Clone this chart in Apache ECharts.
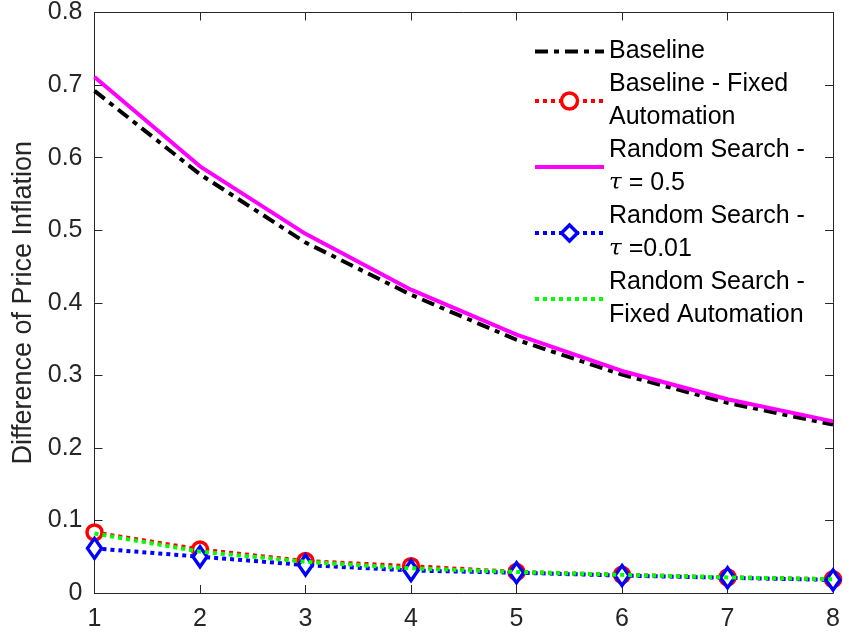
<!DOCTYPE html>
<html>
<head>
<meta charset="utf-8">
<script src="https://cdn.jsdelivr.net/npm/echarts@6/dist/echarts.min.js"></script>
<style>
html,body{margin:0;padding:0;background:#fff;}
#chart{width:843px;height:639px;}
</style>
</head>
<body>
<div id="chart"></div>
<script>
const xValues = [1, 2, 3, 4, 5, 6, 7, 8];
const baseline = [0.692, 0.577, 0.483, 0.411, 0.349, 0.301, 0.262, 0.232];
const baselineFixed = [0.0835, 0.060, 0.044, 0.037, 0.029, 0.025, 0.0215, 0.019];
const randomSearch05 = [0.711, 0.588, 0.495, 0.418, 0.356, 0.306, 0.267, 0.2365];
const randomSearch001 = [0.0615, 0.050, 0.0385, 0.031, 0.028, 0.024, 0.021, 0.018];
const randomSearchFixed = [0.082, 0.057, 0.043, 0.034, 0.029, 0.025, 0.0215, 0.019];
const seriesNames = ['Baseline', 'Baseline - Fixed Automation', 'Random Search - tau = 0.5', 'Random Search - tau =0.01', 'Random Search - Fixed Automation'];
const legendLabels = {
  'Baseline': 'Baseline',
  'Baseline - Fixed Automation': 'Baseline - Fixed\nAutomation',
  'Random Search - tau = 0.5': 'Random Search -\n{t|τ} = 0.5',
  'Random Search - tau =0.01': 'Random Search -\n{t|τ} =0.01',
  'Random Search - Fixed Automation': 'Random Search -\nFixed Automation'
};

const pairs = arr => xValues.map((x, i) => [x, arr[i]]);
const FONT = '"Liberation Sans", Arial, Helvetica, sans-serif';
const AX = '#262626';

const styles = [
  {line: {color: '#000', width: 4, type: [13, 6, 5, 6], cap: 'butt'}, sym: 'none', z: 2},
  {line: {color: '#ff0000', width: 4, type: [4, 4], cap: 'butt'}, sym: 'circle', size: 15, border: '#ff0000', z: 2},
  {line: {color: '#ff00ff', width: 4, type: 'solid'}, sym: 'none', z: 2},
  {line: {color: '#0000ff', width: 4, type: [4, 4], cap: 'butt'}, sym: 'diamond', size: [14, 20], border: '#0000ff', z: 2},
  {line: {color: '#00ff00', width: 4, type: [4, 4], cap: 'butt'}, sym: 'none', z: 3}
];
const seriesData = [baseline, baselineFixed, randomSearch05, randomSearch001, randomSearchFixed];

const legendData = seriesNames.map((n, i) => {
  const s = styles[i];
  const item = {name: n, lineStyle: Object.assign({}, s.line)};
  if (s.sym === 'none') {
    item.itemStyle = {opacity: 0};
  } else {
    item.itemStyle = {color: '#fff', borderColor: s.border, borderWidth: 3.5, opacity: 1};
  }
  return item;
});

const series = seriesNames.map((n, i) => {
  const s = styles[i];
  const o = {
    name: n, type: 'line', data: pairs(seriesData[i]), z: s.z,
    symbol: s.sym, color: s.line.color,
    lineStyle: s.line
  };
  if (s.sym !== 'none') {
    o.symbolSize = s.size;
    o.itemStyle = {color: '#fff', borderColor: s.border, borderWidth: 3.5};
  }
  return o;
});

const chart = echarts.init(document.getElementById('chart'), null, {renderer: 'canvas'});
chart.setOption({
  animation: false,
  backgroundColor: '#fff',
  grid: {left: 94.5, right: 7, top: 10, bottom: 46},
  legend: {
    orient: 'vertical',
    left: 528,
    top: 30,
    itemGap: 0,
    itemWidth: 69,
    itemHeight: 20,
    data: legendData,
    formatter: n => legendLabels[n],
    textStyle: {
      fontFamily: FONT, fontSize: 25, color: '#000', lineHeight: 33,
      rich: {t: {fontFamily: '"DejaVu Serif", serif', fontStyle: 'italic', fontSize: 23, lineHeight: 33, color: '#000'}}
    }
  },
  xAxis: [{
    type: 'value', min: 1, max: 8, interval: 1,
    axisLine: {show: true, onZero: false, lineStyle: {color: AX, width: 1}},
    axisTick: {show: true, inside: true, length: 8, lineStyle: {color: AX}},
    axisLabel: {fontFamily: FONT, fontSize: 25, color: AX, margin: 14},
    splitLine: {show: false}
  }, {
    type: 'value', min: 1, max: 8, interval: 1, position: 'top',
    axisLine: {show: true, onZero: false, lineStyle: {color: AX, width: 1}},
    axisTick: {show: true, inside: true, length: 8, lineStyle: {color: AX}},
    axisLabel: {show: false},
    splitLine: {show: false}
  }],
  yAxis: [{
    type: 'value', min: 0, max: 0.8, interval: 0.1,
    name: 'Difference of Price Inflation',
    nameLocation: 'middle', nameGap: 55,
    nameTextStyle: {fontFamily: FONT, fontSize: 27, color: AX},
    axisLine: {show: true, onZero: false, lineStyle: {color: AX, width: 1}},
    axisTick: {show: true, inside: true, length: 8, lineStyle: {color: AX}},
    axisLabel: {fontFamily: FONT, fontSize: 25, color: AX, margin: 12, formatter: v => String(+v.toFixed(1))},
    splitLine: {show: false}
  }, {
    type: 'value', min: 0, max: 0.8, interval: 0.1, position: 'right',
    axisLine: {show: true, onZero: false, lineStyle: {color: AX, width: 1}},
    axisTick: {show: true, inside: true, length: 8, lineStyle: {color: AX}},
    axisLabel: {show: false},
    splitLine: {show: false}
  }],
  series: series
});
</script>
</body>
</html>
